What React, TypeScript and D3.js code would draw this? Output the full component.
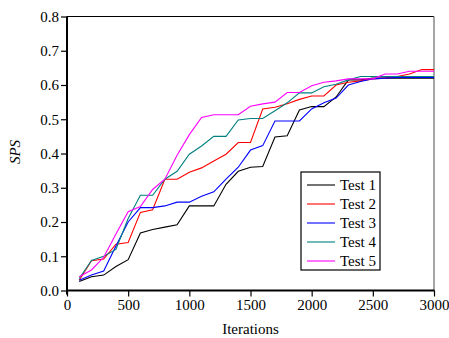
import React, { useEffect, useRef } from 'react';
import * as d3 from 'd3';

const iterations = d3.range(100, 3001, 100);

const test1 = [0.026, 0.04, 0.045, 0.07, 0.09, 0.168, 0.178, 0.185, 0.192, 0.247, 0.247, 0.247, 0.31, 0.348, 0.36, 0.362, 0.448, 0.452, 0.527, 0.537, 0.537, 0.565, 0.615, 0.615, 0.62, 0.62, 0.62, 0.62, 0.62, 0.62];
const test2 = [0.03, 0.087, 0.092, 0.135, 0.14, 0.228, 0.236, 0.325, 0.325, 0.345, 0.358, 0.378, 0.398, 0.432, 0.432, 0.53, 0.535, 0.545, 0.558, 0.568, 0.568, 0.6, 0.608, 0.612, 0.618, 0.62, 0.625, 0.632, 0.645, 0.645];
const test3 = [0.03, 0.045, 0.057, 0.13, 0.2, 0.242, 0.242, 0.247, 0.258, 0.258, 0.275, 0.288, 0.325, 0.36, 0.41, 0.423, 0.495, 0.495, 0.495, 0.53, 0.548, 0.562, 0.6, 0.61, 0.618, 0.62, 0.622, 0.622, 0.622, 0.622];
const test4 = [0.035, 0.088, 0.1, 0.12, 0.21, 0.278, 0.278, 0.325, 0.348, 0.398, 0.422, 0.45, 0.45, 0.498, 0.502, 0.502, 0.525, 0.548, 0.577, 0.577, 0.595, 0.602, 0.615, 0.625, 0.625, 0.625, 0.625, 0.625, 0.625, 0.625];
const test5 = [0.04, 0.06, 0.097, 0.165, 0.23, 0.245, 0.295, 0.325, 0.395, 0.455, 0.505, 0.513, 0.513, 0.513, 0.538, 0.545, 0.55, 0.578, 0.578, 0.598, 0.608, 0.612, 0.618, 0.618, 0.618, 0.632, 0.632, 0.64, 0.64, 0.64];

const seriesNames = ['Test 1', 'Test 2', 'Test 3', 'Test 4', 'Test 5'];
const seriesColors = ['#000000', '#ff0000', '#0000ff', '#008080', '#ff00ff'];
const seriesValues = [test1, test2, test3, test4, test5];

const xTicks = [0, 500, 1000, 1500, 2000, 2500, 3000];
const yTicks = [0, 0.1, 0.2, 0.3, 0.4, 0.5, 0.6, 0.7, 0.8];

const W = 449;
const H = 338;
const FONT = "'Liberation Serif', 'Times New Roman', Times, serif";

export default function App() {
  const svgRef = useRef<SVGSVGElement>(null);

  useEffect(() => {
    if (!svgRef.current) return;
    const svg = d3.select(svgRef.current);
    svg.selectAll('*').remove();
    svg.style('font-family', FONT);

    const left = 67, right = 434, top = 16.5, bottom = 290.5;
    const x = d3.scaleLinear().domain([0, 3000]).range([left, right]);
    const y = d3.scaleLinear().domain([0, 0.8]).range([bottom, top]);

    // frame: thin top, grey right
    svg.append('line').attr('x1', left).attr('x2', right).attr('y1', top).attr('y2', top)
      .attr('stroke', '#000').attr('stroke-width', 1);
    svg.append('line').attr('x1', right).attr('x2', right).attr('y1', top).attr('y2', bottom)
      .attr('stroke', '#888').attr('stroke-width', 1.5);

    // series
    const line = d3.line<number>()
      .x((_, i) => x(iterations[i]))
      .y((d) => y(d));

    seriesValues.forEach((vals, k) => {
      svg.append('path')
        .datum(vals)
        .attr('fill', 'none')
        .attr('stroke', seriesColors[k])
        .attr('stroke-width', 1.1)
        .attr('d', line);
    });

    // y axis
    const yAxis = svg.append('g').attr('transform', `translate(${left},0)`);
    yAxis.call(d3.axisLeft(y).tickValues(d3.range(0, 0.81, 0.05)).tickSize(3).tickFormat(() => ''));
    yAxis.call(d3.axisLeft(y).tickValues(yTicks).tickSize(6).tickPadding(2).tickFormat(d3.format('.1f')));
    yAxis.attr('font-family', null);
    yAxis.selectAll('.domain').remove();
    yAxis.selectAll('line').attr('stroke', '#000').attr('stroke-width', 1.2);
    yAxis.selectAll('text').style('font-family', FONT).attr('font-size', 15).attr('fill', '#000');
    svg.append('line').attr('x1', left).attr('x2', left).attr('y1', top).attr('y2', bottom + 4)
      .attr('stroke', '#000').attr('stroke-width', 2);

    // x axis
    const xAxis = svg.append('g').attr('transform', `translate(0,${bottom})`);
    xAxis.call(d3.axisBottom(x).tickValues(d3.range(0, 3001, 250)).tickSize(3).tickFormat(() => ''));
    xAxis.call(d3.axisBottom(x).tickValues(xTicks).tickSize(6).tickPadding(3).tickFormat(d3.format('d')));
    xAxis.attr('font-family', null);
    xAxis.selectAll('.domain').remove();
    xAxis.selectAll('line').attr('stroke', '#000').attr('stroke-width', 1.2);
    xAxis.selectAll('text').style('font-family', FONT).attr('font-size', 15).attr('fill', '#000');
    svg.append('line').attr('x1', left - 1).attr('x2', right + 0.5).attr('y1', bottom).attr('y2', bottom)
      .attr('stroke', '#000').attr('stroke-width', 2);

    // axis titles
    svg.append('text')
      .attr('x', (left + right) / 2).attr('y', 334)
      .attr('text-anchor', 'middle')
      .style('font-family', FONT).attr('font-size', 15)
      .text('Iterations');
    svg.append('text')
      .attr('transform', `translate(20,152) rotate(-90)`)
      .attr('text-anchor', 'middle')
      .style('font-family', FONT).attr('font-size', 15).attr('font-style', 'italic')
      .text('SPS');

    // legend
    const lg = svg.append('g').attr('transform', 'translate(301,172)');
    lg.append('rect').attr('x', 0).attr('y', 0).attr('width', 79).attr('height', 98)
      .attr('fill', '#fff').attr('stroke', '#000').attr('stroke-width', 1.2);
    seriesNames.forEach((name, k) => {
      const ry = 13 + k * 19;
      lg.append('line').attr('x1', 6).attr('x2', 34).attr('y1', ry).attr('y2', ry)
        .attr('stroke', seriesColors[k]).attr('stroke-width', 1.1);
      lg.append('text').attr('x', 39).attr('y', ry + 5)
        .style('font-family', FONT).attr('font-size', 15)
        .text(name);
    });
  }, []);

  return (
    <svg
      ref={svgRef}
      width={W}
      height={H}
      style={{ position: 'absolute', left: 0, top: 0, background: '#fff' }}
    />
  );
}
